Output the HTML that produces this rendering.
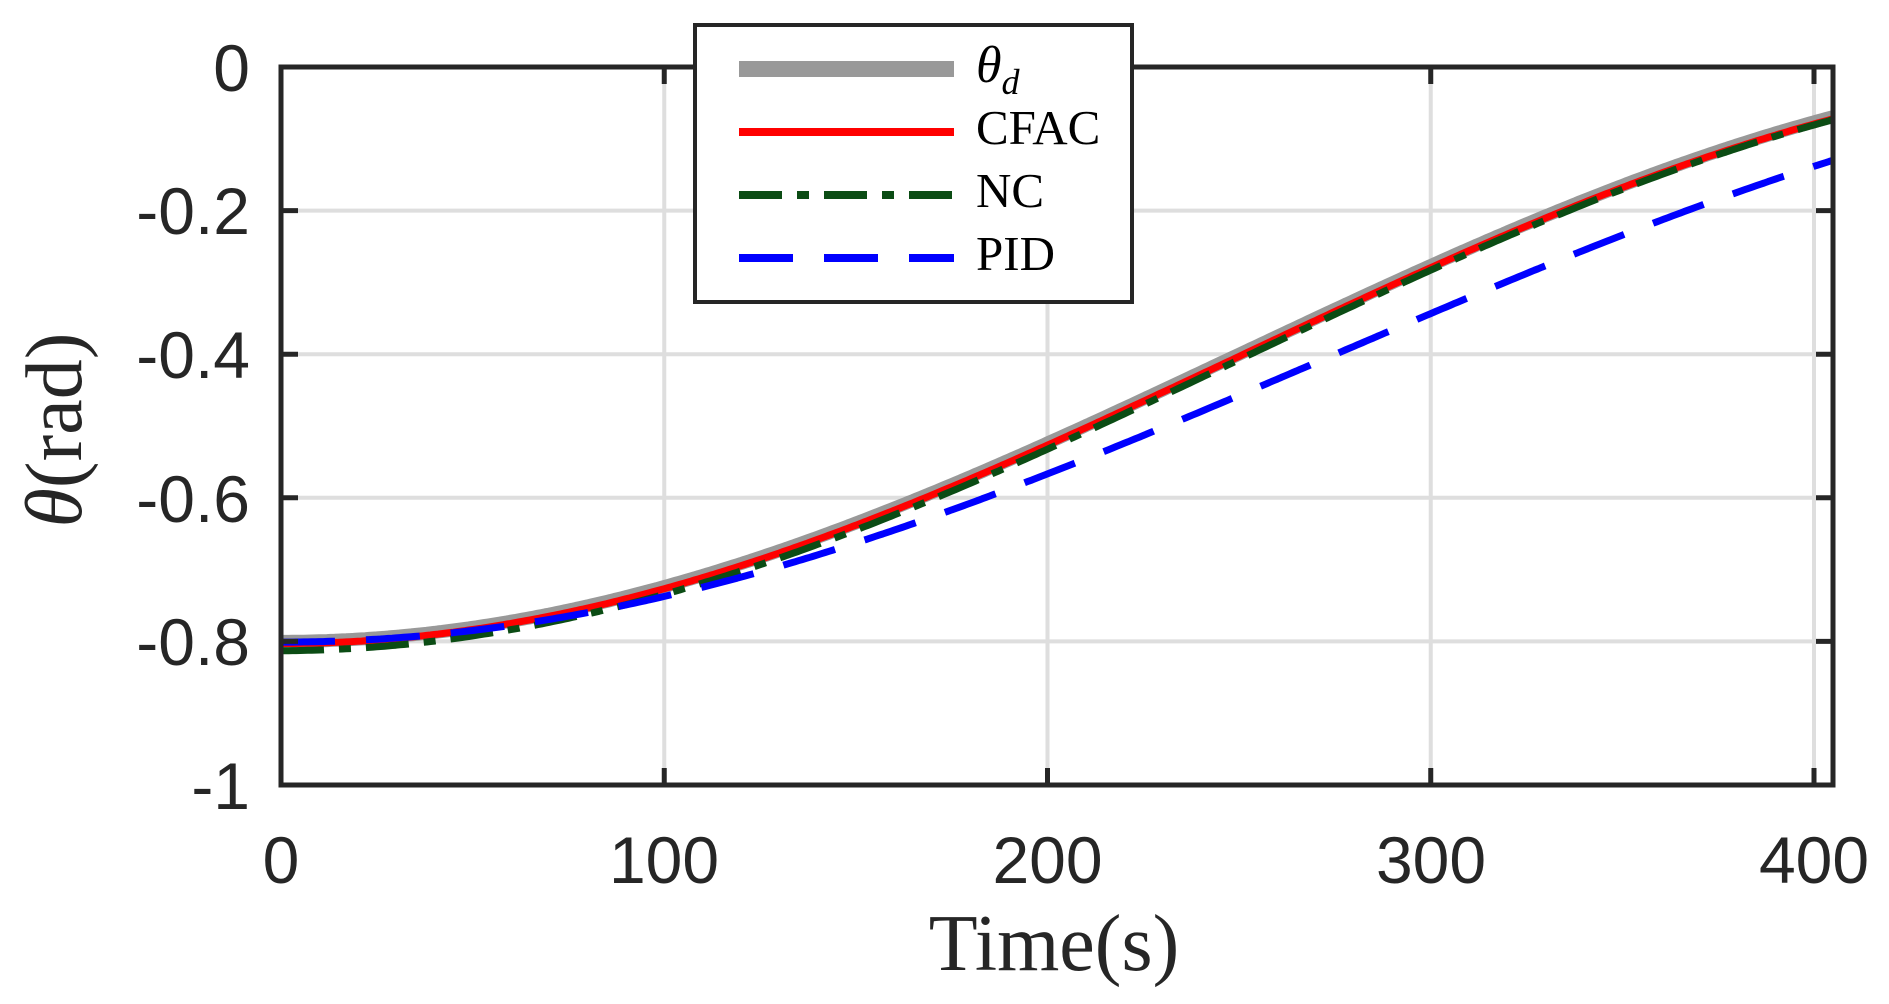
<!DOCTYPE html>
<html><head><meta charset="utf-8"><style>
html,body{margin:0;padding:0;background:#fff;}
svg{display:block;}
</style></head><body>
<svg id="s" width="1889" height="1004" viewBox="0 0 1889 1004" xmlns="http://www.w3.org/2000/svg">
<rect x="0" y="0" width="1889" height="1004" fill="#fff"/>
<g stroke="#dedede" stroke-width="4">
<line x1="664.25" y1="67" x2="664.25" y2="785"/>
<line x1="1047.5" y1="67" x2="1047.5" y2="785"/>
<line x1="1430.75" y1="67" x2="1430.75" y2="785"/>
<line x1="1814" y1="67" x2="1814" y2="785"/>
<line x1="281" y1="210.6" x2="1833" y2="210.6"/>
<line x1="281" y1="354.2" x2="1833" y2="354.2"/>
<line x1="281" y1="497.8" x2="1833" y2="497.8"/>
<line x1="281" y1="641.4" x2="1833" y2="641.4"/>
</g>
<g id="curves" fill="none" stroke-linejoin="round"></g>
<g stroke="#262626" stroke-width="5">
<rect x="281" y="67" width="1552" height="718" fill="none"/>
<line x1="664.25" y1="785" x2="664.25" y2="768"/><line x1="1047.5" y1="785" x2="1047.5" y2="768"/><line x1="1430.75" y1="785" x2="1430.75" y2="768"/><line x1="1814" y1="785" x2="1814" y2="768"/>
<line x1="664.25" y1="67" x2="664.25" y2="84"/><line x1="1047.5" y1="67" x2="1047.5" y2="84"/><line x1="1430.75" y1="67" x2="1430.75" y2="84"/><line x1="1814" y1="67" x2="1814" y2="84"/>
<line x1="281" y1="210.6" x2="298" y2="210.6"/><line x1="281" y1="354.2" x2="298" y2="354.2"/><line x1="281" y1="497.8" x2="298" y2="497.8"/><line x1="281" y1="641.4" x2="298" y2="641.4"/>
<line x1="1833" y1="210.6" x2="1816" y2="210.6"/><line x1="1833" y1="354.2" x2="1816" y2="354.2"/><line x1="1833" y1="497.8" x2="1816" y2="497.8"/><line x1="1833" y1="641.4" x2="1816" y2="641.4"/>
</g>
<g font-family="Liberation Sans, sans-serif" font-size="66" fill="#262626" text-anchor="end">
<text x="250" y="91">0</text>
<text x="250" y="234">-0.2</text>
<text x="250" y="378">-0.4</text>
<text x="250" y="522">-0.6</text>
<text x="250" y="665">-0.8</text>
<text x="250" y="809">-1</text>
</g>
<g font-family="Liberation Sans, sans-serif" font-size="66" fill="#262626" text-anchor="middle">
<text x="281" y="883">0</text>
<text x="664" y="883">100</text>
<text x="1047.5" y="883">200</text>
<text x="1431" y="883">300</text>
<text x="1814" y="883">400</text>
</g>
<text x="1054" y="970" font-family="Liberation Serif, serif" font-size="80" fill="#262626" text-anchor="middle">Time(s)</text>
<text transform="translate(81,430) rotate(-90)" font-family="Liberation Serif, serif" font-size="80" fill="#262626" text-anchor="middle"><tspan font-style="italic">θ</tspan>(rad)</text>
<rect x="695" y="25" width="437" height="277" fill="#fff" stroke="#262626" stroke-width="4"/>
<line x1="739" y1="69" x2="954" y2="69" stroke="#999" stroke-width="16"/>
<line x1="739" y1="132" x2="954" y2="132" stroke="#ff0000" stroke-width="8"/>
<line x1="739" y1="195" x2="954" y2="195" stroke="#0b4c14" stroke-width="8" stroke-dasharray="43 15 12 15"/>
<line x1="739" y1="258" x2="954" y2="258" stroke="#0000ff" stroke-width="8" stroke-dasharray="54 31"/>
<g font-family="Liberation Serif, serif" font-size="49" fill="#000">
<text x="976" y="82" font-style="italic" font-size="52">θ<tspan font-size="36" dy="12">d</tspan></text>
<text x="976" y="144">CFAC</text>
<text x="976" y="207">NC</text>
<text x="976" y="270">PID</text>
</g>
</svg>
<script>
(function(){
var X=function(t){return 281+t*3.8325;};
var Y=function(v){return 67-v*718;};
function th(t){if(t<0)t=0;return -0.8+0.4*(1-Math.cos(Math.PI*t/500));}
function path(f){var d='';for(var t=0;t<=405;t+=1){d+=(t?'L':'M')+X(t).toFixed(1)+' '+Y(f(t)).toFixed(1);}return d;}
var g=document.getElementById('curves');
function add(f,col,w,dash){var p=document.createElementNS('http://www.w3.org/2000/svg','path');p.setAttribute('d',path(f));p.setAttribute('stroke',col);p.setAttribute('stroke-width',w);if(dash)p.setAttribute('stroke-dasharray',dash);g.appendChild(p);}
add(function(t){return th(t);},'#999',13);
add(function(t){return th(t)-0.003;},'#ff0000',7);
add(function(t){return th(t)-0.013*(1-t/600);},'#0b4c14',7,'43 15 12 15');
add(function(t){return th(t-0.09*t)-0.001;},'#0000ff',7,'54 31');
})();
</script>
</body></html>
